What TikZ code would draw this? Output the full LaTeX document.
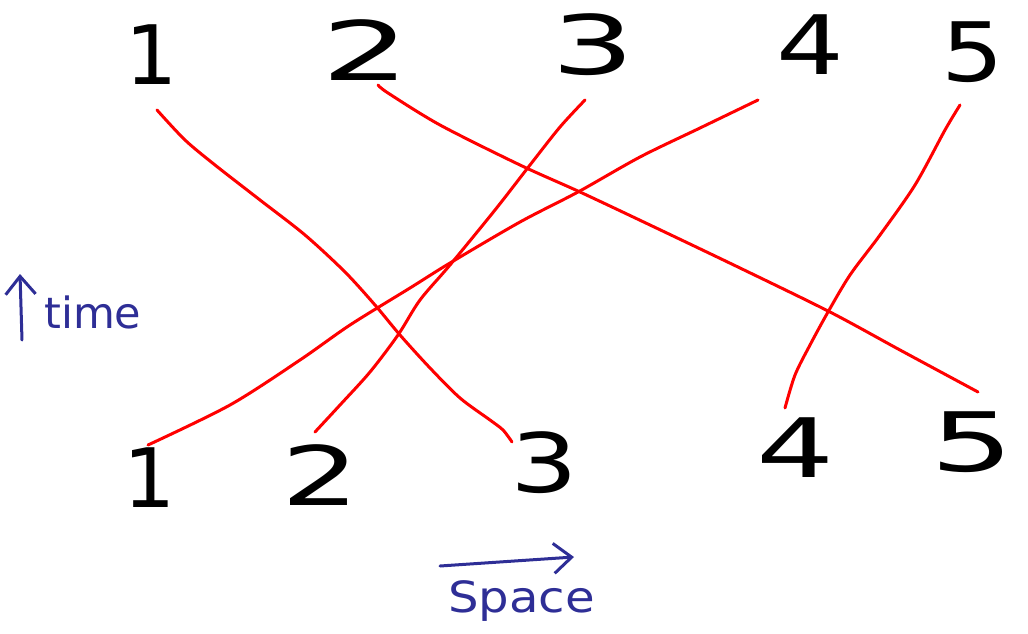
\documentclass[tikz,border=0pt]{standalone}
\usepackage{fontspec}
\setmainfont{DejaVu Sans}
\usetikzlibrary{arrows.meta}
\definecolor{pen}{RGB}{46,46,150}
\tikzset{
  digit/.style={inner sep=0pt, font=\fontsize{82}{82}\selectfont, text=black},
  world/.style={red, line width=3pt, line cap=round, line join=round},
  axis/.style={pen, line width=3pt, line cap=round, -{Straight Barb[length=18pt,width=30pt,line width=3pt]}},
  axlabel/.style={pen, inner sep=0pt, font=\fontsize{43}{43}\selectfont}
}
\begin{document}
\begin{tikzpicture}[x=1pt,y=-1pt]
\useasboundingbox (0,0) rectangle (1028,634);
% top digits
\node[digit] (t1) at (152,55) {1};
\node[digit, xscale=1.7] (t2) at (366,50) {2};
\node[digit, xscale=1.6] (t3) at (593,45) {3};
\node[digit, xscale=1.3] (t4) at (810,45) {4};
\node[digit, xscale=1.2] (t5) at (973,52) {5};
% bottom digits
\node[digit] (b1) at (150,478) {1};
\node[digit, xscale=1.5] (b2) at (321,475) {2};
\node[digit, xscale=1.3] (b3) at (544,463) {3};
\node[digit, xscale=1.5] (b4) at (796,448) {4};
\node[digit, xscale=1.6] (b5) at (972,442) {5};
% line ends
\coordinate (a1) at (157,110); \coordinate (a2) at (512,442);
\coordinate (c1) at (378,85);  \coordinate (c2) at (978,392);
\coordinate (d1) at (585,100); \coordinate (d2) at (315,432);
\coordinate (e1) at (758,100); \coordinate (e2) at (148,445);
\coordinate (f1) at (960,105); \coordinate (f2) at (785,408);
% world lines
\draw[world] plot[smooth, tension=0.5] coordinates {(a1) (185,140) (215,165) (260,200) (305,235) (345,272) (375,305) (400,335) (430,368) (460,398) (490,420) (503,430) (a2)};
\draw[world] plot[smooth, tension=0.5] coordinates {(c1) (388,93) (440,125) (520,165) (580,192) (650,225) (740,268) (830,312) (900,350) (c2)};
\draw[world] plot[smooth, tension=0.5] coordinates {(d1) (560,127) (530,165) (495,210) (450,265) (420,300) (398,335) (370,372) (340,405) (d2)};
\draw[world] plot[smooth, tension=0.5] coordinates {(e1) (700,128) (640,157) (578,192) (520,222) (450,263) (410,288) (350,325) (300,360) (230,405) (e2)};
\draw[world] plot[smooth, tension=0.5] coordinates {(f1) (945,130) (915,185) (880,235) (850,275) (828,312) (810,345) (795,375) (f2)};
% axes
\coordinate (tA) at (22,340); \coordinate (tB) at (20,274);
\draw[axis] (tA) -- (tB);
\node[axlabel, anchor=west] (time) at (44,312) {time};
\coordinate (sA) at (440,566); \coordinate (sB) at (574,557);
\draw[axis] (sA) -- (sB);
\node[axlabel, anchor=west, xscale=1.12] (space) at (448,601) {Space};
\end{tikzpicture}
\end{document}
